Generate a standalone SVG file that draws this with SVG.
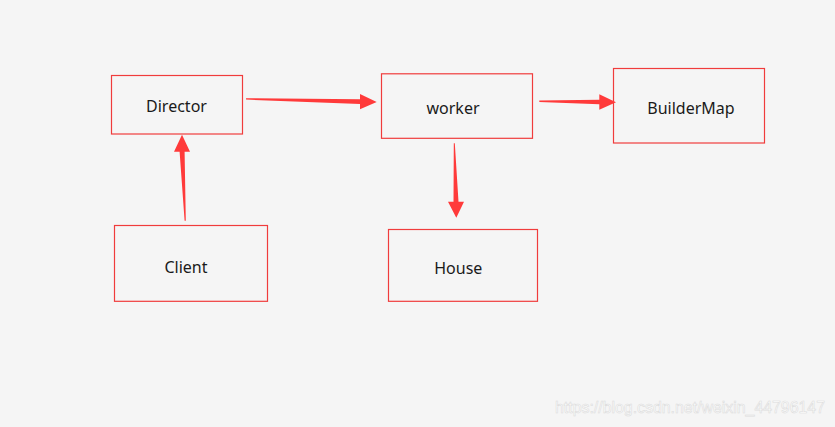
<svg xmlns="http://www.w3.org/2000/svg" width="835" height="427" viewBox="0 0 835 427">
<style>
.box{fill:#f5f5f5;stroke:#f03c3c;stroke-width:1.2}
.lbl{font-family:"Noto Sans","Open Sans",sans-serif;font-size:16px;fill:#1a1a1a;text-anchor:middle}
.arr{fill:#ff3a3a}
.wm{font-family:"Liberation Sans",Arial,sans-serif;font-size:16px;fill:#ffffff;stroke:#dcdcdc;stroke-width:0.6}
</style>
<rect width="835" height="427" fill="#f5f5f5"/>
<g id="director"><rect class="box" x="111.5" y="75.5" width="131" height="58.5"/><text class="lbl" x="176.5" y="112">Director</text></g>
<g id="worker"><rect class="box" x="381.5" y="73.8" width="151" height="64.5"/><text class="lbl" x="453" y="114">worker</text></g>
<g id="buildermap"><rect class="box" x="613.5" y="68.5" width="151" height="74.5"/><text class="lbl" x="691" y="114">BuilderMap</text></g>
<g id="client"><rect class="box" x="114.5" y="225.5" width="153" height="75.8"/><text class="lbl" x="186" y="273">Client</text></g>
<g id="house"><rect class="box" x="388.5" y="229.5" width="149" height="71.8"/><text class="lbl" x="458.3" y="274">House</text></g>
<g id="connectors">
<polygon class="arr" points="246,98.2 360,99.2 360,94 376.7,102 360,109.3 360,104.1 246,99.6"/>
<polygon class="arr" points="539.3,100.6 599.3,99.8 599.3,94.3 616,102.3 599.3,109.7 599.3,104.2 539.3,102"/>
<polygon class="arr" points="185.8,220.7 184.6,151.7 190,151.7 182,134.7 174,151.7 179.6,151.7 184.6,220.7"/>
<polygon class="arr" points="454.8,143.3 458.5,201.7 464,201.7 456.3,217.7 448,201.7 453.5,201.7 453.8,143.3"/>
</g>
<text class="wm" x="555" y="413" textLength="270" lengthAdjust="spacingAndGlyphs">https://blog.csdn.net/weixin_44796147</text>
</svg>
